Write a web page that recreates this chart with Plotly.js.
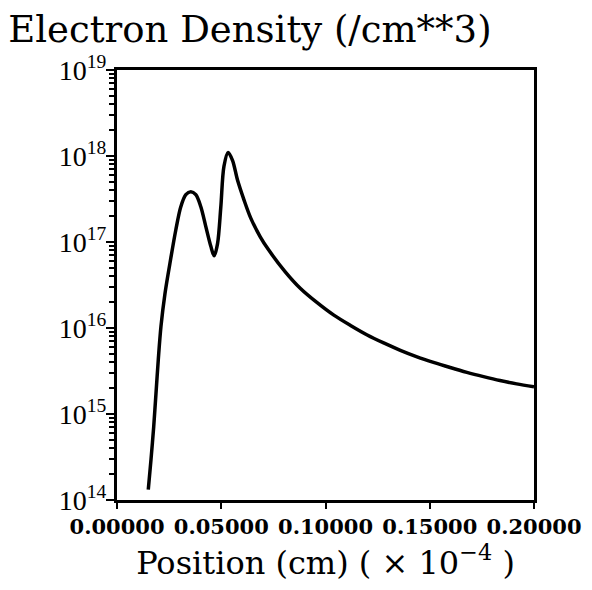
<!DOCTYPE html>
<html>
<head>
<meta charset="utf-8">
<script src="https://cdn.plot.ly/plotly-3.0.1.min.js"></script>
<style>html,body{margin:0;padding:0;background:#fff;}#chart{width:592px;height:590px;}</style>
</head>
<body>
<div id="chart"></div>
<script>
// Position (cm, x 10^-4)
const position = [0.0150,0.0163,0.0176,0.0187,0.0198,0.0211,0.0230,0.0258,0.0282,0.0306,
  0.0330,0.0354,0.0378,0.0402,0.0426,0.0450,0.0466,0.0482,0.0498,0.0513,
  0.0533,0.0554,0.0578,0.0609,0.0641,0.0687,0.0727,0.0807,0.0880,0.0960,0.1040,
  0.1120,0.1200,0.1279,0.1359,0.1439,0.1518,0.1598,0.1678,0.1758,0.1837,
  0.1917,0.2000];
// Electron density (/cm^3)
const density = [1.32e14,2.95e14,7.1e14,1.74e15,4.27e15,1.05e16,2.51e16,6.46e16,1.38e17,2.57e17,
  3.55e17,3.85e17,3.55e17,2.57e17,1.51e17,8.9e16,6.9e16,9.5e16,2.57e17,7.6e17,
  1.1e18,8.9e17,5.25e17,3.09e17,1.91e17,1.15e17,8.1e16,4.5e16,2.88e16,1.97e16,1.41e16,
  1.07e16,8.3e15,6.7e15,5.5e15,4.62e15,3.98e15,3.47e15,3.05e15,2.72e15,2.45e15,
  2.24e15,2.07e15];
const yTickVals = [1e14,1e15,1e16,1e17,1e18,1e19];
const yTickText = ['10<sup>14</sup>','10<sup>15</sup>','10<sup>16</sup>','10<sup>17</sup>','10<sup>18</sup>','10<sup>19</sup>'];
const xTickVals = [0,0.05,0.10,0.15,0.20];

const serif = 'Liberation Serif, serif';
const dserif = 'DejaVu Serif, serif';
Plotly.newPlot('chart', [{
  x: position, y: density, type: 'scatter', mode: 'lines',
  line: {color: '#000', width: 3.5, shape: 'spline', smoothing: 0.9},
  hoverinfo: 'skip'
}], {
  width: 592, height: 590,
  margin: {l: 117, r: 58, t: 70, b: 90},
  paper_bgcolor: '#fff', plot_bgcolor: '#fff',
  showlegend: false,
  title: {text: 'Electron Density (/cm**3)', font: {family: dserif, size: 37, color: '#000'},
    xref: 'container', yref: 'container', x: 0.014, xanchor: 'left', y: 0.95, yanchor: 'middle'},
  xaxis: {
    range: [0, 0.2], tickvals: xTickVals, tickformat: '.5f',
    showline: true, linewidth: 3, linecolor: '#000', mirror: true,
    ticks: 'outside', ticklen: 6, tickwidth: 2, tickcolor: '#000',
    showgrid: false, zeroline: false,
    tickfont: {family: dserif, size: 21, color: '#000', weight: 'bold'},
    title: {text: 'Position (cm) ( × 10<sup>−4</sup> )', font: {family: dserif, size: 32, color: '#000'}, standoff: 0}
  },
  yaxis: {
    type: 'log', range: [14, 19], tickvals: yTickVals, ticktext: yTickText,
    showline: true, linewidth: 3, linecolor: '#000', mirror: true,
    ticks: 'outside', ticklen: 8, tickwidth: 2, tickcolor: '#000',
    minor: {ticks: 'outside', ticklen: 5, tickwidth: 2, tickcolor: '#000', dtick: 'D1'},
    showgrid: false, zeroline: false,
    ticklabelstandoff: -6,
    tickfont: {family: serif, size: 28, color: '#000'}
  }
}, {staticPlot: true});
</script>
</body>
</html>
